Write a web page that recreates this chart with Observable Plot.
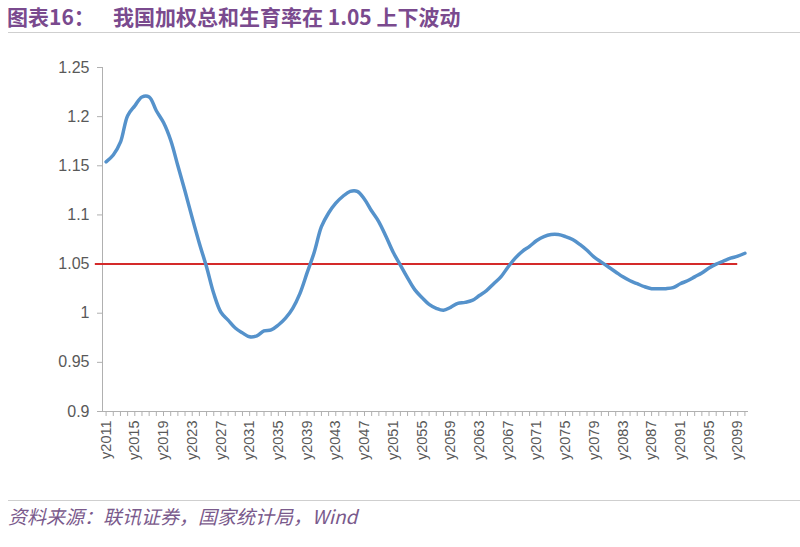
<!DOCTYPE html>
<html>
<head>
<meta charset="utf-8">
<script src="https://cdn.jsdelivr.net/npm/d3@7"></script>
<script src="https://cdn.jsdelivr.net/npm/@observablehq/plot@0.6"></script>
<style>
  html, body { margin: 0; padding: 0; background: #fff; }
  body { width: 800px; height: 547px; position: relative; overflow: hidden; }
  #title {
    position: absolute; left: 7px; top: 3px; right: 0;
    font-family: "Noto Sans CJK SC", "Liberation Sans", sans-serif;
    font-size: 21px; font-weight: bold; color: #7a4a8e; white-space: pre;
    line-height: 26px;
  }
  #title .lead { display: inline-block; width: 106px; }
  #rule1 { position: absolute; left: 8px; right: 0; top: 32px; height: 0; border-top: 1px solid #cfcfcf; }
  #chart { position: absolute; left: 0; top: 38px; }
  #rule2 { position: absolute; left: 8px; right: 0; top: 500px; height: 0; border-top: 1px solid #cfcfcf; }
  #source {
    position: absolute; left: 8px; top: 503px;
    font-family: "Noto Sans CJK SC", "Liberation Sans", sans-serif;
    font-size: 19px; font-style: italic; color: #7a5a8c; line-height: 26px;
  }
</style>
</head>
<body>
<div id="title"><span class="lead">图表16：</span>我国加权总和生育率在 1.05 上下波动</div>
<div id="rule1"></div>
<div id="chart"></div>
<div id="rule2"></div>
<div id="source">资料来源：联讯证券，国家统计局，Wind</div>
<script>
const startYear = 2011;
const values = [
  1.154, 1.161, 1.174, 1.201, 1.211, 1.220, 1.220, 1.206, 1.194, 1.176,
  1.150, 1.124, 1.097, 1.071, 1.047, 1.020, 1.001, 0.993, 0.985, 0.980,
  0.976, 0.977, 0.982, 0.983, 0.988, 0.995, 1.005, 1.020, 1.041, 1.062,
  1.088, 1.102, 1.112, 1.119, 1.124, 1.124, 1.116, 1.104, 1.093, 1.078,
  1.062, 1.049, 1.036, 1.024, 1.016, 1.009, 1.005, 1.003, 1.006, 1.010,
  1.011, 1.013, 1.018, 1.023, 1.030, 1.037, 1.047, 1.056, 1.063, 1.068,
  1.074, 1.078, 1.080, 1.080, 1.078, 1.075, 1.070, 1.064, 1.057, 1.052,
  1.047, 1.042, 1.037, 1.033, 1.030, 1.027, 1.025, 1.025, 1.025, 1.026,
  1.030, 1.033, 1.037, 1.041, 1.046, 1.050, 1.053, 1.056, 1.058, 1.061
];
const years = values.map((_, i) => startYear + i);
const xTickLabels = ["y2011","y2015","y2019","y2023","y2027","y2031","y2035","y2039","y2043","y2047","y2051","y2055","y2059","y2063","y2067","y2071","y2075","y2079","y2083","y2087","y2091","y2095","y2099"];
const yTicks = [0.9, 0.95, 1, 1.05, 1.1, 1.15, 1.2, 1.25];
const yTickLabels = ["0.9","0.95","1","1.05","1.1","1.15","1.2","1.25"];
const reference = 1.05;

const data = years.map((yr, i) => ({year: yr, value: values[i]}));
const labelYears = xTickLabels.map(s => +s.slice(1));

const chart = Plot.plot({
  width: 800,
  height: 457,
  marginLeft: 102,
  marginRight: 52,
  marginTop: 29,
  marginBottom: 84,
  style: { fontFamily: "'Liberation Sans', Arial, sans-serif", background: "transparent", overflow: "visible" },
  x: { domain: [years[0] - 0.5, years[years.length - 1] + 0.5] },
  y: { domain: [0.9, 1.25] },
  marks: [
    Plot.ruleX([years[0] - 0.5], { stroke: "#b0b0b0", strokeWidth: 1 }),
    Plot.ruleY([0.9], { stroke: "#b0b0b0", strokeWidth: 1 }),
    Plot.axisY({
      ticks: yTicks, tickSize: 5, tickPadding: 8, stroke: "#b0b0b0",
      tickFormat: d => yTickLabels[yTicks.indexOf(d)],
      fontSize: 16, color: "#595959", label: null
    }),
    Plot.axisX({
      ticks: years, tickSize: 5, tickFormat: () => "", stroke: "#b0b0b0", label: null
    }),
    Plot.axisX({
      ticks: labelYears, tickSize: 0, tickPadding: 9, tickRotate: -90,
      tickFormat: d => xTickLabels[labelYears.indexOf(d)],
      fontSize: 14.5, color: "#595959", label: null
    }),
    Plot.ruleY([reference], { x1: years[0] - 1.5, x2: 2099, stroke: "#d42a2a", strokeWidth: 2 }),
    Plot.line(data, { x: "year", y: "value", stroke: "#5592cb", strokeWidth: 3.5, curve: "catmull-rom" })
  ]
});
document.getElementById("chart").appendChild(chart);
</script>
</body>
</html>
